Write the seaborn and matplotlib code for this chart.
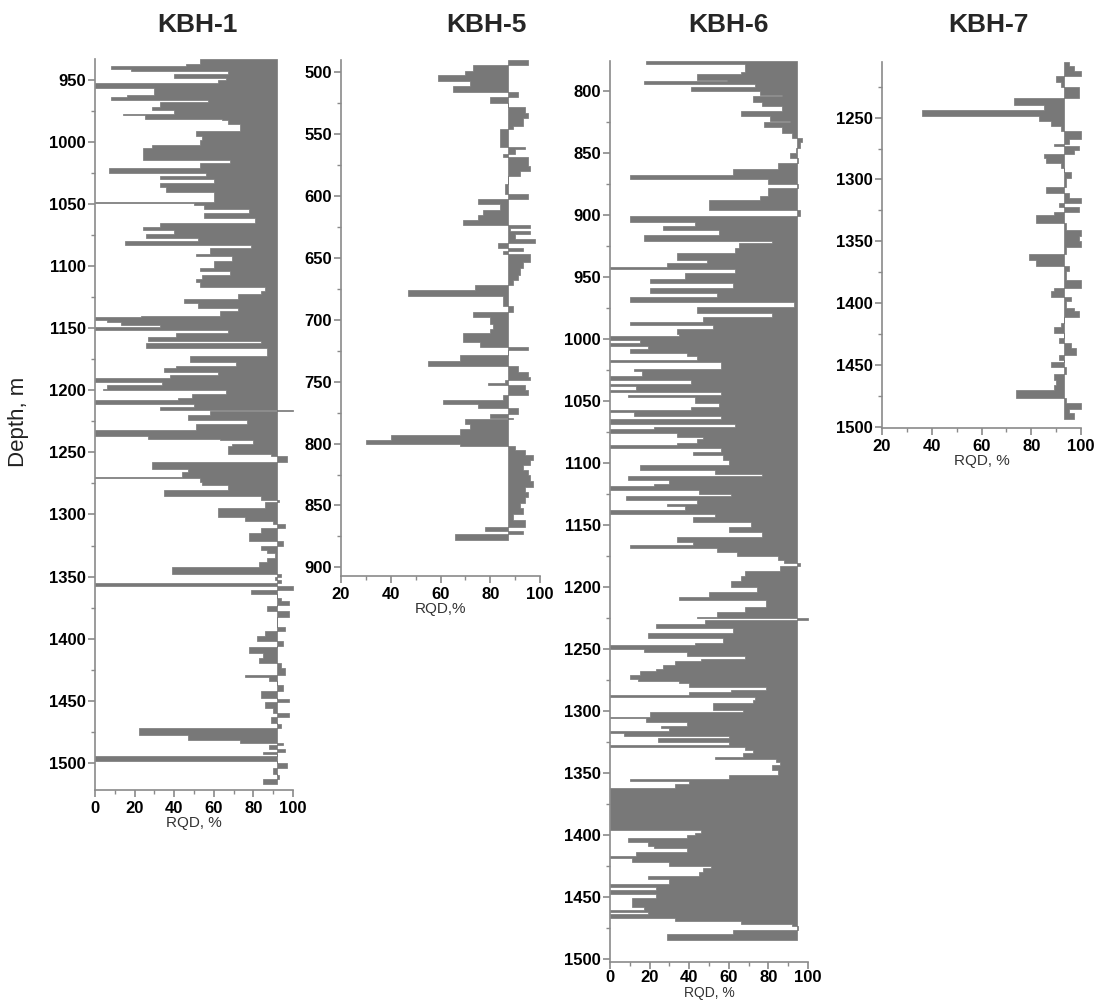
import numpy as np
import matplotlib.pyplot as plt
import seaborn as sns
from matplotlib.ticker import MultipleLocator

# -----------------------------
# DATA  (interval tops in m, last entry = bottom of log; RQD in %)
# -----------------------------
kbh1_depth = [933, 937, 939, 941, 943, 945, 948, 950, 952, 956,
              962, 964, 966, 968, 972, 974, 977, 978, 981, 982,
              985, 991, 995, 998, 1002, 1005, 1014, 1017, 1021, 1025,
              1027, 1030, 1033, 1036, 1040, 1048, 1049, 1051, 1054, 1057,
              1061, 1065, 1068, 1071, 1074, 1077, 1080, 1083, 1085, 1090,
              1092, 1096, 1101, 1104, 1107, 1110, 1113, 1117, 1120, 1122,
              1126, 1130, 1134, 1136, 1140, 1141, 1143, 1145, 1147, 1149,
              1151, 1154, 1157, 1160, 1162, 1166, 1172, 1177, 1180, 1182,
              1185, 1188, 1190, 1193, 1196, 1199, 1200, 1203, 1206, 1208,
              1211, 1213, 1216, 1217, 1220, 1224, 1227, 1232, 1237, 1239,
              1240, 1243, 1245, 1251, 1253, 1258, 1263, 1266, 1270, 1271,
              1274, 1276, 1280, 1285, 1288, 1290, 1295, 1302, 1305, 1308,
              1311, 1315, 1321, 1325, 1329, 1331, 1335, 1338, 1342, 1348,
              1350, 1353, 1355, 1358, 1361, 1364, 1367, 1370, 1373, 1374,
              1378, 1383, 1391, 1394, 1398, 1402, 1406, 1407, 1412, 1416,
              1420, 1424, 1429, 1431, 1434, 1437, 1442, 1448, 1449, 1451,
              1456, 1460, 1463, 1468, 1469, 1472, 1478, 1482, 1484, 1486,
              1489, 1491, 1493, 1495, 1499, 1500, 1504, 1509, 1510, 1513,
              1517]
kbh1_rqd = [53, 46, 8, 18, 67, 40, 66, 62, 0, 30,
            16, 8, 57, 33, 29, 40, 14, 25, 64, 67,
            73, 51, 54, 53, 29, 24, 68, 53, 7, 56,
            33, 60, 33, 36, 60, 0, 50, 55, 78, 55,
            81, 33, 24, 40, 26, 52, 15, 79, 58, 51,
            69, 60, 53, 68, 54, 51, 53, 86, 84, 72,
            45, 52, 72, 63, 23, 0, 6, 13, 33, 0,
            67, 41, 27, 84, 26, 87, 48, 71, 41, 35,
            62, 38, 0, 34, 6, 4, 66, 49, 42, 0,
            50, 33, 100, 58, 47, 77, 51, 0, 27, 63,
            80, 69, 67, 89, 97, 29, 47, 44, 0, 53,
            54, 67, 35, 84, 93, 86, 62, 76, 90, 96,
            84, 78, 95, 84, 87, 91, 87, 83, 39, 94,
            91, 94, 0, 100, 79, 92, 94, 98, 92, 87,
            98, 92, 96, 86, 82, 95, 92, 78, 85, 83,
            94, 96, 76, 88, 92, 95, 84, 92, 98, 86,
            90, 98, 89, 92, 94, 22, 47, 73, 95, 88,
            96, 85, 92, 0, 92, 97, 90, 92, 93, 85]
kbh1_base = 92

kbh5_depth = [490, 494, 499, 502, 507, 511, 516, 520, 525, 528,
              533, 537, 543, 546, 560, 562, 566, 568, 576, 580,
              584, 590, 598, 602, 606, 611, 615, 619, 623, 626,
              628, 631, 635, 638, 642, 644, 647, 653, 658, 664,
              668, 672, 676, 681, 689, 694, 698, 703, 707, 711,
              718, 722, 724, 728, 733, 737, 742, 746, 749, 751,
              753, 757, 761, 765, 768, 771, 776, 779, 780, 784,
              788, 793, 797, 800, 802, 805, 809, 813, 817, 821,
              825, 830, 835, 839, 843, 848, 852, 857, 862, 867,
              871, 873, 878]
kbh5_rqd = [95, 73, 70, 59, 72, 65, 91, 80, 87, 94,
            95, 93, 89, 84, 94, 90, 85, 95, 96, 92,
            87, 86, 95, 75, 84, 77, 75, 69, 96, 88,
            96, 90, 98, 83, 93, 85, 96, 93, 92, 91,
            89, 74, 47, 85, 89, 73, 80, 81, 80, 69,
            76, 95, 87, 68, 55, 91, 95, 96, 86, 79,
            94, 95, 85, 61, 75, 91, 80, 89, 70, 72,
            68, 40, 30, 68, 90, 94, 97, 96, 93, 95,
            96, 97, 94, 95, 94, 92, 93, 89, 94, 78,
            93, 66]
kbh5_base = 87

kbh6_depth = [776, 778, 785, 786, 791, 792, 794, 797, 800, 803,
              804, 809, 812, 816, 820, 824, 825, 829, 834, 838,
              841, 846, 850, 854, 858, 863, 868, 871, 875, 878,
              885, 888, 896, 901, 906, 909, 912, 916, 921, 923,
              927, 931, 936, 939, 942, 944, 947, 952, 955, 959,
              963, 966, 970, 974, 979, 982, 986, 989, 992, 996,
              998, 1001, 1003, 1006, 1008, 1011, 1014, 1017, 1019, 1024,
              1026, 1030, 1033, 1036, 1038, 1041, 1043, 1045, 1047, 1052,
              1055, 1057, 1059, 1062, 1065, 1069, 1071, 1073, 1076, 1079,
              1081, 1084, 1086, 1088, 1091, 1094, 1098, 1102, 1106, 1109,
              1111, 1114, 1117, 1119, 1122, 1125, 1127, 1130, 1133, 1135,
              1138, 1141, 1144, 1148, 1152, 1156, 1160, 1164, 1166, 1169,
              1172, 1175, 1178, 1181, 1183, 1187, 1191, 1195, 1200, 1204,
              1208, 1211, 1216, 1220, 1224, 1225, 1227, 1230, 1233, 1237,
              1241, 1245, 1247, 1250, 1253, 1256, 1258, 1260, 1263, 1266,
              1268, 1271, 1274, 1276, 1278, 1281, 1283, 1285, 1287, 1289,
              1291, 1294, 1299, 1301, 1305, 1306, 1309, 1312, 1314, 1316,
              1318, 1320, 1322, 1325, 1328, 1329, 1332, 1334, 1337, 1339,
              1341, 1344, 1348, 1352, 1355, 1357, 1359, 1362, 1396, 1399,
              1400, 1403, 1406, 1409, 1411, 1414, 1417, 1419, 1422, 1425,
              1427, 1430, 1433, 1436, 1440, 1442, 1445, 1448, 1451, 1458,
              1461, 1462, 1464, 1467, 1470, 1472, 1474, 1477, 1480, 1485]
kbh6_rqd = [18, 68, 66, 44, 59, 17, 73, 41, 76, 87,
            72, 77, 87, 66, 81, 91, 78, 87, 92, 97,
            96, 94, 91, 95, 85, 62, 10, 80, 95, 80,
            76, 50, 96, 10, 43, 27, 55, 17, 82, 65,
            63, 34, 49, 29, 0, 63, 38, 20, 62, 20,
            54, 10, 93, 44, 82, 47, 10, 52, 34, 35,
            0, 15, 0, 19, 10, 39, 44, 0, 56, 12,
            16, 0, 41, 0, 13, 0, 56, 9, 43, 55,
            41, 0, 12, 56, 0, 63, 22, 0, 34, 47,
            44, 34, 0, 56, 42, 57, 60, 15, 53, 77,
            9, 30, 22, 0, 45, 61, 8, 44, 29, 38,
            0, 53, 42, 71, 60, 77, 34, 42, 10, 54,
            64, 85, 88, 96, 86, 68, 66, 61, 74, 50,
            35, 79, 68, 54, 44, 100, 48, 23, 62, 19,
            57, 43, 0, 17, 39, 68, 46, 33, 27, 23,
            15, 10, 14, 35, 40, 79, 61, 40, 0, 73,
            72, 52, 67, 20, 0, 18, 39, 26, 30, 0,
            7, 60, 24, 60, 0, 68, 72, 67, 53, 84,
            86, 82, 85, 60, 10, 40, 33, 0, 46, 43,
            39, 9, 19, 22, 39, 13, 0, 11, 30, 51,
            47, 45, 19, 30, 0, 23, 0, 23, 11, 17,
            0, 19, 0, 33, 66, 92, 95, 62, 29]
kbh6_base = 94.5

kbh7_depth = [1205, 1208, 1212, 1216, 1221, 1225, 1234, 1240, 1244, 1249,
              1253, 1257, 1261, 1267, 1271, 1273, 1276, 1279, 1283, 1287,
              1291, 1294, 1299, 1306, 1311, 1315, 1319, 1322, 1326, 1329,
              1335, 1341, 1346, 1350, 1355, 1360, 1365, 1370, 1374, 1381,
              1388, 1390, 1395, 1398, 1404, 1406, 1411, 1416, 1419, 1424,
              1428, 1432, 1436, 1442, 1446, 1448, 1452, 1457, 1462, 1466,
              1470, 1477, 1481, 1486, 1489, 1494]
kbh7_rqd = [95, 97, 100, 90, 92, 99, 73, 85, 36, 83,
            88, 92, 100, 95, 89, 99, 97, 85, 86, 92,
            93, 96, 94, 86, 95, 100, 91, 99, 89, 82,
            94, 100, 99, 100, 94, 79, 82, 95, 94, 100,
            89, 88, 96, 94, 97, 99, 93, 92, 89, 93,
            91, 96, 98, 91, 93, 88, 94, 89, 90, 89,
            74, 94, 100, 95, 97]
kbh7_base = 93

# -----------------------------
# STYLE
# -----------------------------
sns.set_style("ticks")
plt.rcParams["font.family"] = ["Liberation Sans", "DejaVu Sans"]

BAR = "#787878"
AXIS = "#8a8a8a"
W, H = 1096, 1001

fig = plt.figure(figsize=(10.96, 10.01), dpi=100)


def log_panel(box, depth, rqd, base, xlim, ylim, xlabel, title_x, title):
    left, right, top, bottom = box
    ax = fig.add_axes([left / W, 1 - bottom / H, (right - left) / W, (bottom - top) / H])

    # stepped log: each interval filled from the baseline to its RQD value
    depth = np.asarray(depth, dtype=float)
    rqd = np.append(np.asarray(rqd, dtype=float), rqd[-1])
    ax.fill_betweenx(depth, base, rqd, step="post", color=BAR,
                     edgecolor=BAR, linewidth=0.5)

    ax.set_xlim(*xlim)
    ax.set_ylim(*ylim)
    ax.xaxis.set_major_locator(MultipleLocator(20))
    ax.xaxis.set_minor_locator(MultipleLocator(10))
    ax.yaxis.set_major_locator(MultipleLocator(50))
    ax.yaxis.set_minor_locator(MultipleLocator(25))

    sns.despine(ax=ax)
    for side in ("left", "bottom"):
        ax.spines[side].set_color(AXIS)
        ax.spines[side].set_linewidth(1.2)
    ax.tick_params(which="major", length=5, width=1.2, color=AXIS, labelsize=12, labelcolor="black")
    ax.tick_params(which="minor", length=3, width=1.0, color=AXIS)
    ax.tick_params(axis="y", which="major", pad=1.5)
    ax.tick_params(axis="x", which="major", pad=3)
    for lab in ax.get_xticklabels() + ax.get_yticklabels():
        lab.set_fontweight("bold")
    ax.set_xlabel(xlabel, fontsize=11, color="#333333", labelpad=0)
    ax.set_facecolor("white")

    fig.text(title_x / W, 1 - 25 / H, title, ha="center", va="center",
             fontsize=19, fontweight="bold")
    return ax


log_panel((95, 293, 59, 790), kbh1_depth, kbh1_rqd, kbh1_base,
          (0, 100), (1522, 933), "RQD, %", 197, "KBH-1")
log_panel((341, 540, 60, 576), kbh5_depth, kbh5_rqd, kbh5_base,
          (20, 100), (907, 490), "RQD,%", 486, "KBH-5")
ax6 = log_panel((610, 808, 61, 962), kbh6_depth, kbh6_rqd, kbh6_base,
                (0, 100), (1502.7, 775.8), "RQD, %", 728, "KBH-6")
log_panel((882, 1081, 62, 428), kbh7_depth, kbh7_rqd, kbh7_base,
          (20, 100), (1501, 1205), "RQD, %", 988, "KBH-7")

# KBH-6 reaches the bottom edge: tighten its tick labels and keep its
# axis title just inside the figure
ax6.tick_params(axis="x", which="major", pad=1)
ax6.xaxis.label.set_fontsize(10)
ax6.xaxis.set_label_coords(0.5, (1 - 1000 / H - (1 - 962 / H)) / ((962 - 61) / H))
ax6.xaxis.label.set_va("bottom")

fig.text(19 / W, 1 - 422 / H, "Depth, m", rotation=90, ha="center", va="center",
         fontsize=16, color="#222222")

fig.savefig("out.png", dpi=100, facecolor="white")
